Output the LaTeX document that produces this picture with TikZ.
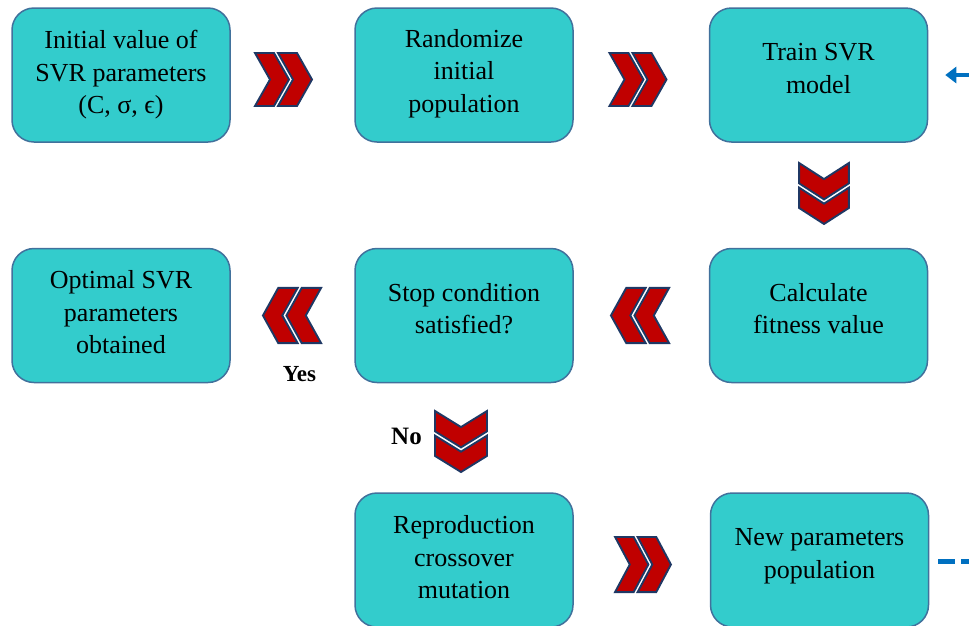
\documentclass[tikz,border=0pt]{standalone}
\usepackage{fontspec}
\setmainfont{Liberation Serif}
\usetikzlibrary{arrows.meta}
\definecolor{boxfill}{HTML}{33CCCC}
\definecolor{boxline}{HTML}{41719C}
\definecolor{chevred}{HTML}{C00000}
\definecolor{chevline}{HTML}{1F3864}
\definecolor{flowblue}{HTML}{0070C0}
\tikzset{
  pics/dchev/.style={code={
    \path[chevpart] (-28.5,-26.5) -- (-9.5,-26.5) -- (5.5,0) -- (-9.5,26.5) -- (-28.5,26.5) -- (-13.5,0) -- cycle;
    \path[chevpart] (-5.5,-26.5) -- (13.5,-26.5) -- (28.5,0) -- (13.5,26.5) -- (-5.5,26.5) -- (9.5,0) -- cycle;
  }}
}
\begin{document}
\begin{tikzpicture}[x=1pt,y=-1pt,
  box/.style={draw=boxline, line width=1.5pt, fill=boxfill, rounded corners=22pt,
              minimum width=218pt, minimum height=134pt, inner sep=0pt},
  boxtext/.style={font=\fontsize{26}{32.5}\selectfont, align=center, inner sep=0pt},
  chevpart/.style={fill=chevred, draw=chevline, line width=1.9pt, line join=miter},
  answer/.style={font=\fontsize{23}{27}\selectfont\bfseries, inner sep=0pt},
  loopline/.style={draw=flowblue, line width=4.5pt, dash pattern=on 17pt off 6pt}
]
\useasboundingbox (0,0) rectangle (969,625);

% boxes
\node[box] (b1) at (121,75) {};
\node[box] (b2) at (464,75) {};
\node[box] (b3) at (818.5,75) {};
\node[box] (b4) at (121,315.5) {};
\node[box] (b5) at (464,315.5) {};
\node[box] (b6) at (818.5,315.5) {};
\node[box] (b7) at (464,560) {};
\node[box] (b8) at (819.5,560) {};

% texts
\node[boxtext] (t1) at ([yshift=0pt]b1.center) {Initial value of\\SVR parameters\\(C, σ, ϵ)};
\node[boxtext] (t2) at ([yshift=1.5pt]b2.center) {Randomize\\initial\\population};
\node[boxtext] (t3) at ([yshift=6.5pt]b3.center) {Train SVR\\model};
\node[boxtext] (t4) at ([yshift=3pt]b4.center) {Optimal SVR\\parameters\\obtained};
\node[boxtext] (t5) at ([yshift=7pt]b5.center) {Stop condition\\satisfied?};
\node[boxtext] (t6) at ([yshift=7pt]b6.center) {Calculate\\fitness value};
\node[boxtext] (t7) at ([yshift=2.5pt]b7.center) {Reproduction\\crossover\\mutation};
\node[boxtext] (t8) at ([yshift=4pt]b8.center) {New parameters\\population};

% chevrons
\pic at (283.5,79.5) {dchev};
\pic at (638,79.5) {dchev};
\pic[rotate=-90, xscale=1.07, yscale=0.94] at (824,193.5) {dchev};
\pic[rotate=180, xscale=1.02, yscale=1.04] at (292,315.5) {dchev};
\pic[rotate=180, xscale=1.02, yscale=1.04] at (640,315.5) {dchev};
\pic[rotate=-90, xscale=1.07, yscale=0.98] at (461,441.5) {dchev};
\pic[xscale=0.98, yscale=1.04] at (643,564.5) {dchev};

% labels
\node[answer] (yes) at (299.5,374.5) {Yes};
\node[answer, font=\fontsize{25}{29}\selectfont\bfseries] (no) at (406.5,436.5) {No};

% feedback connector
\coordinate (loopr) at (1000,0);
\draw[loopline, shorten <=9pt, -{Triangle[length=11pt,width=16pt]}]
  ([yshift=-1.5pt]b8.east) -- ([yshift=-1.5pt]b8.east -| loopr) |- (b3.east -| loopr) -- ([xshift=17pt]b3.east);
\end{tikzpicture}
\end{document}
